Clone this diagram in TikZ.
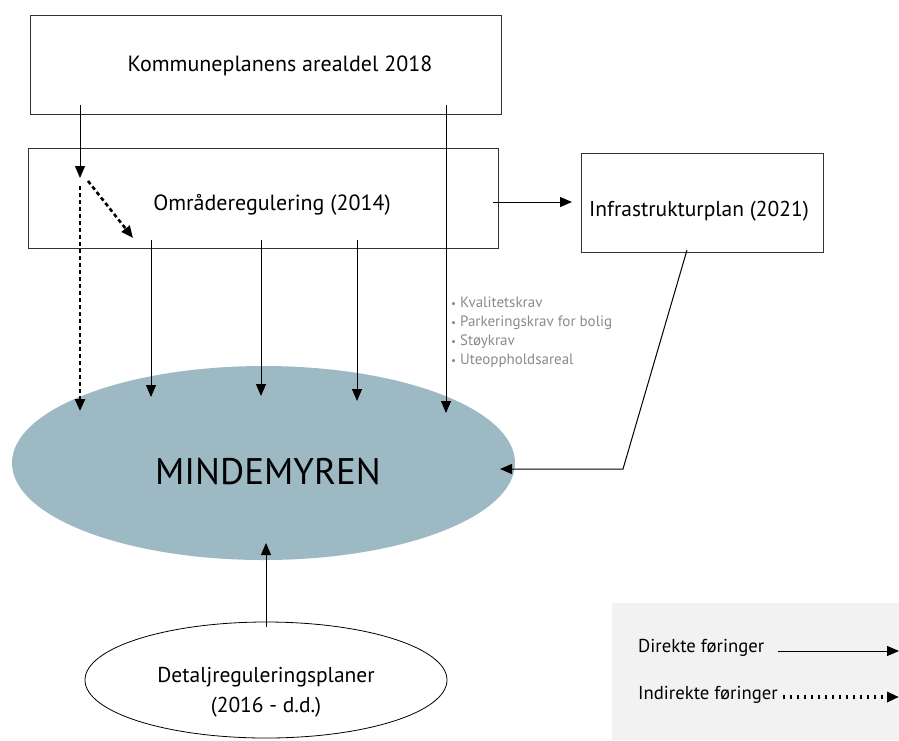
\documentclass[tikz,border=0pt]{standalone}
\usepackage{fontspec}
\setmainfont{PT Sans}
\usetikzlibrary{arrows.meta,shapes.geometric}
\definecolor{areafill}{HTML}{9DB9C4}
\definecolor{legendfill}{HTML}{F2F2F2}
\definecolor{notegray}{HTML}{8A8A8A}
\definecolor{framegray}{HTML}{333333}
\newcommand{\reqdot}{{\fontsize{11}{11}\selectfont•}}

\begin{document}
\begin{tikzpicture}[x=1pt,y=-1pt,
  planbox/.style={draw=framegray, line width=0.9pt, inner sep=0pt},
  label/.style={inner sep=0pt, font=\fontsize{22}{25}\selectfont},
  tip/.style={-{Triangle[length=12pt,width=10pt]}},
  direct/.style={tip, line width=1pt},
  indirect/.style={tip, line width=2.6pt, dash pattern=on 4pt off 3pt},
  dotline/.style={tip, line width=4.5pt, dash pattern=on 2pt off 5pt},
]
\useasboundingbox (0,0) rectangle (899,740);

% plan boxes
\node[planbox, minimum width=471pt, minimum height=99pt] (kpa) at (265.5,64.5) {};
\node[label] (kpatext) at (280,66) {Kommuneplanens arealdel 2018};
\node[planbox, minimum width=470pt, minimum height=100pt] (omr) at (263,198) {};
\node[label] (omrtext) at (272,205) {Områderegulering (2014)};
\node[planbox, minimum width=242pt, minimum height=99pt] (infra) at (702,202.5) {};
\node[label, font=\fontsize{21.5}{25}\selectfont] (infratext) at (699,211) {Infrastrukturplan (2021)};

% the area itself
\node[ellipse, fill=areafill, minimum width=503pt, minimum height=194pt, inner sep=0pt] (mm) at (263.5,463) {};
\node[inner sep=0pt, font=\fontsize{37}{42}\selectfont] (mmtext) at (268,472) {MINDEMYREN};

% detailed plans
\node[ellipse, draw=black, line width=0.8pt, minimum width=362pt, minimum height=116pt, inner sep=0pt] (det) at (266,680) {};
\node[label, align=center, font=\fontsize{21.5}{30}\selectfont] (dettext) at (266,692) {Detaljreguleringsplaner\\(2016 - d.d.)};

% requirements list
\node[anchor=north west, inner sep=0pt, align=left, text=notegray,
      font=\fontsize{15}{19}\selectfont] (req) at (451,297)
  {\reqdot\ Kvalitetskrav\\\reqdot\ Parkeringskrav for bolig\\\reqdot\ Støykrav\\\reqdot\ Uteoppholdsareal};

% legend
\node[fill=legendfill, minimum width=287pt, minimum height=137pt, inner sep=0pt] (leg) at (755.5,671.5) {};
\node[anchor=west, inner sep=0pt, font=\fontsize{18.7}{22}\selectfont] (legd) at (638,648) {Direkte føringer};
\node[anchor=west, inner sep=0pt, font=\fontsize{18.7}{22}\selectfont] (legi) at (638,695) {Indirekte føringer};
\coordinate (legdA) at (778,651);
\coordinate (legdB) at (899,651);
\coordinate (legiA) at (783,697);
\coordinate (legiB) at (899,697);
\draw[direct] (legdA) -- (legdB);
\draw[dotline] (legiA) -- (legiB);

% connector end points
\coordinate (k1) at (80,105);
\coordinate (o1) at (80,178);
\coordinate (o1b) at (80,186);
\coordinate (m1) at (80,411);
\coordinate (d1a) at (88,181);
\coordinate (d1b) at (133,238);
\coordinate (k2) at (446,105);
\coordinate (m2) at (446,413);
\coordinate (oA) at (151,240);
\coordinate (mA) at (151,397);
\coordinate (oB) at (261,240);
\coordinate (mB) at (261,396);
\coordinate (oC) at (357,240);
\coordinate (mC) at (357,401);
\coordinate (oR) at (493,202);
\coordinate (iL) at (572,202);
\coordinate (iB) at (687,250);
\coordinate (bend) at (623,469);
\coordinate (mR) at (500,469);
\coordinate (dT) at (266,627);
\coordinate (mBot) at (266,543);

% connectors
\draw[direct] (k1) -- (o1);
\draw[indirect] (o1b) -- (m1);
\draw[indirect] (d1a) -- (d1b);
\draw[direct] (k2) -- (m2);
\draw[direct] (oA) -- (mA);
\draw[direct] (oB) -- (mB);
\draw[direct] (oC) -- (mC);
\draw[direct] (oR) -- (iL);
\draw[direct] (iB) -- (bend) -- (mR);
\draw[direct] (dT) -- (mBot);
\end{tikzpicture}
\end{document}
